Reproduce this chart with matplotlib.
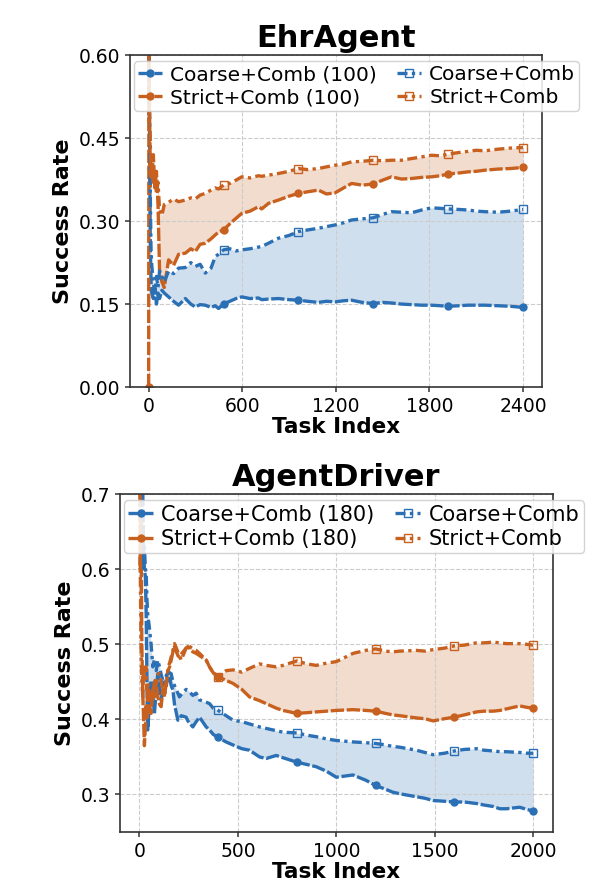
import matplotlib
matplotlib.use("Agg")
import matplotlib.pyplot as plt
from matplotlib.ticker import FormatStrFormatter

# ---- EhrAgent (top) ----
ehr_tasks = [0, 2, 5, 10, 15, 20, 30, 40, 50, 60,
             70, 85, 100, 128, 160, 192, 235, 270, 299, 330,
             363, 400, 427, 448, 480, 520, 560, 597, 650, 704,
             725, 768, 832, 900, 960, 1020, 1088, 1140, 1195, 1250,
             1301, 1370, 1440, 1500, 1557, 1621, 1685, 1750, 1813, 1870,
             1920, 1990, 2048, 2100, 2155, 2240, 2320, 2400]
ehr_coarse_100 = [1.0, 0.67, 0.5, 0.27, 0.19, 0.17, 0.16, 0.18, 0.15, 0.17,
                  0.16, 0.175, 0.17, 0.163, 0.155, 0.148, 0.160, 0.150, 0.145, 0.149,
                  0.148, 0.144, 0.147, 0.142, 0.150, 0.155, 0.160, 0.163, 0.160, 0.161,
                  0.158, 0.159, 0.160, 0.158, 0.157, 0.155, 0.153, 0.155, 0.154, 0.156,
                  0.157, 0.153, 0.151, 0.153, 0.152, 0.150, 0.149, 0.148, 0.148, 0.147,
                  0.146, 0.147, 0.148, 0.148, 0.148, 0.147, 0.146, 0.144]
ehr_coarse = [1.0, 0.67, 0.5, 0.36, 0.25, 0.22, 0.19, 0.17, 0.20, 0.18,
              0.21, 0.20, 0.19, 0.21, 0.205, 0.215, 0.216, 0.225, 0.218, 0.222,
              0.206, 0.215, 0.236, 0.240, 0.248, 0.250, 0.246, 0.248, 0.250, 0.253,
              0.254, 0.260, 0.269, 0.274, 0.281, 0.284, 0.287, 0.290, 0.293, 0.297,
              0.302, 0.304, 0.306, 0.312, 0.317, 0.316, 0.315, 0.320, 0.324, 0.323,
              0.322, 0.321, 0.320, 0.318, 0.317, 0.316, 0.318, 0.321]
ehr_strict_100 = [0.0, 0.67, 0.5, 0.36, 0.40, 0.38, 0.42, 0.36, 0.39, 0.33,
                  0.21, 0.19, 0.18, 0.23, 0.22, 0.24, 0.242, 0.25, 0.245, 0.258,
                  0.26, 0.268, 0.275, 0.280, 0.284, 0.295, 0.305, 0.314, 0.318, 0.326,
                  0.322, 0.332, 0.338, 0.345, 0.350, 0.353, 0.356, 0.349, 0.351, 0.360,
                  0.368, 0.365, 0.367, 0.374, 0.380, 0.376, 0.377, 0.379, 0.380, 0.382,
                  0.385, 0.387, 0.389, 0.390, 0.392, 0.394, 0.395, 0.397]
ehr_strict = [1.0, 0.67, 0.5, 0.45, 0.38, 0.40, 0.37, 0.39, 0.35, 0.37,
              0.32, 0.31, 0.33, 0.334, 0.34, 0.335, 0.338, 0.342, 0.340, 0.347,
              0.350, 0.356, 0.360, 0.358, 0.365, 0.368, 0.374, 0.380, 0.378, 0.382,
              0.381, 0.383, 0.386, 0.390, 0.395, 0.393, 0.395, 0.398, 0.401, 0.403,
              0.407, 0.408, 0.410, 0.409, 0.410, 0.410, 0.413, 0.416, 0.419, 0.418,
              0.421, 0.424, 0.426, 0.428, 0.427, 0.430, 0.432, 0.433]
ehr_marks = [0, 480, 960, 1440, 1920, 2400]

# ---- AgentDriver (bottom) ----
ad_tasks = [0, 4, 8, 12, 17, 21, 25, 30, 34, 38,
            42, 50, 59, 68, 76, 85, 93, 102, 110, 119,
            128, 136, 145, 153, 161, 170, 178, 195, 203, 212,
            237, 246, 271, 288, 305, 339, 356, 375, 400, 440,
            475, 520, 559, 610, 644, 695, 729, 800, 850, 898,
            950, 1000, 1085, 1150, 1200, 1250, 1288, 1322, 1407, 1450,
            1492, 1550, 1600, 1650, 1712, 1750, 1797, 1831, 1864, 1932,
            1970, 2000]
ad_coarse_180 = [1.0, 0.8, 0.78, 0.75, 0.70, 0.62, 0.60, 0.59, 0.54, 0.45,
                 0.386, 0.42, 0.452, 0.43, 0.408, 0.44, 0.461, 0.44, 0.426, 0.44,
                 0.45, 0.447, 0.455, 0.457, 0.445, 0.439, 0.42, 0.399, 0.40, 0.405,
                 0.403, 0.398, 0.39, 0.397, 0.403, 0.39, 0.386, 0.38, 0.376, 0.37,
                 0.366, 0.361, 0.359, 0.35, 0.348, 0.352, 0.349, 0.343, 0.340, 0.337,
                 0.331, 0.323, 0.326, 0.319, 0.312, 0.307, 0.303, 0.301, 0.297, 0.295,
                 0.292, 0.291, 0.290, 0.290, 0.288, 0.286, 0.284, 0.281, 0.281, 0.283,
                 0.280, 0.278]
ad_coarse = [1.0, 0.8, 0.75, 0.70, 0.65, 0.60, 0.63, 0.60, 0.594, 0.56,
             0.54, 0.523, 0.50, 0.47, 0.48, 0.465, 0.479, 0.47, 0.46, 0.452,
             0.455, 0.458, 0.465, 0.462, 0.461, 0.45, 0.445, 0.435, 0.43, 0.433,
             0.44, 0.439, 0.432, 0.435, 0.426, 0.423, 0.421, 0.415, 0.412, 0.405,
             0.399, 0.397, 0.394, 0.39, 0.388, 0.385, 0.383, 0.382, 0.379, 0.377,
             0.374, 0.372, 0.370, 0.369, 0.368, 0.366, 0.364, 0.363, 0.359, 0.356,
             0.353, 0.355, 0.358, 0.360, 0.361, 0.359, 0.358, 0.357, 0.357, 0.356,
             0.355, 0.355]
ad_strict_180 = [1.0, 0.6, 0.67, 0.5, 0.43, 0.40, 0.365, 0.39, 0.42, 0.40,
                 0.443, 0.42, 0.408, 0.44, 0.43, 0.452, 0.43, 0.42, 0.417, 0.44,
                 0.43, 0.452, 0.465, 0.47, 0.479, 0.49, 0.497, 0.485, 0.483, 0.487,
                 0.495, 0.497, 0.49, 0.488, 0.485, 0.479, 0.47, 0.462, 0.457, 0.452,
                 0.448, 0.44, 0.43, 0.425, 0.421, 0.415, 0.412, 0.408, 0.409, 0.410,
                 0.411, 0.412, 0.413, 0.412, 0.411, 0.408, 0.406, 0.405, 0.402, 0.401,
                 0.398, 0.401, 0.403, 0.406, 0.410, 0.411, 0.411, 0.412, 0.414, 0.418,
                 0.416, 0.415]
ad_strict = [1.0, 0.6, 0.5, 0.45, 0.43, 0.47, 0.45, 0.47, 0.47, 0.44,
             0.45, 0.43, 0.44, 0.435, 0.45, 0.455, 0.46, 0.461, 0.45, 0.44,
             0.435, 0.443, 0.47, 0.475, 0.483, 0.492, 0.501, 0.49, 0.485, 0.479,
             0.495, 0.499, 0.494, 0.492, 0.488, 0.479, 0.47, 0.462, 0.457, 0.465,
             0.466, 0.463, 0.468, 0.474, 0.472, 0.470, 0.472, 0.478, 0.474, 0.472,
             0.475, 0.477, 0.488, 0.492, 0.494, 0.491, 0.490, 0.491, 0.492, 0.491,
             0.493, 0.495, 0.498, 0.499, 0.502, 0.502, 0.503, 0.502, 0.501, 0.501,
             0.500, 0.499]
ad_marks = [0, 400, 800, 1200, 1600, 2000]

blue = "#2b70b5"
orange = "#c8611f"
dash_k = (0, (4, 0.8))          # the (100)/(180) runs, nearly solid
dash_dot = (0, (3, 1.3, 1, 1.3))


def draw(ax, tasks, c_k, c, s_k, s, k, marks, title, yticks, yfmt, xticks, ylim, legsize):
    idx = [tasks.index(m) for m in marks]
    ax.fill_between(tasks, c_k, c, color=blue, alpha=0.22, lw=0)
    ax.fill_between(tasks, s_k, s, color=orange, alpha=0.22, lw=0)
    ax.plot(tasks, c_k, ls=dash_k, color=blue, lw=2.4, marker="o", ms=5,
            markevery=idx, label=f"Coarse+Comb ({k})")
    ax.plot(tasks, s_k, ls=dash_k, color=orange, lw=2.4, marker="o", ms=5,
            markevery=idx, label=f"Strict+Comb ({k})")
    ax.plot(tasks, c, ls=dash_dot, color=blue, lw=2.4, marker="s", ms=6, mfc="none",
            markevery=idx, label="Coarse+Comb")
    ax.plot(tasks, s, ls=dash_dot, color=orange, lw=2.4, marker="s", ms=6, mfc="none",
            markevery=idx, label="Strict+Comb")
    ax.set_ylim(*ylim)
    ax.set_yticks(yticks)
    ax.yaxis.set_major_formatter(FormatStrFormatter(yfmt))
    ax.set_xticks(xticks)
    ax.tick_params(labelsize=13.5, color="#333333", width=1.1)
    ax.grid(True, ls="--", color="#cccccc", lw=0.8)
    for sp in ax.spines.values():
        sp.set_color("#333333")
        sp.set_linewidth(1.2)
    ax.set_title(title, fontsize=22, fontweight="bold")
    ax.set_xlabel("Task Index", fontsize=15.5, fontweight="bold", labelpad=1)
    ax.set_ylabel("Success Rate", fontsize=16, fontweight="bold")
    ax.legend(ncol=2, loc="upper left", bbox_to_anchor=(-0.005, 1.0),
              fontsize=legsize, handlelength=1.2, handletextpad=0.4,
              columnspacing=1.0, borderpad=0.2, labelspacing=0.2,
              borderaxespad=0.3, framealpha=0.85)


fig = plt.figure(figsize=(5.96, 8.96), dpi=100)
ax1 = fig.add_axes([0.218, 0.568, 0.691, 0.3705])
ax2 = fig.add_axes([0.201, 0.0714, 0.7265, 0.377])

draw(ax1, ehr_tasks, ehr_coarse_100, ehr_coarse, ehr_strict_100, ehr_strict, 100,
     ehr_marks, "EhrAgent", [0, 0.15, 0.30, 0.45, 0.60], "%.2f",
     [0, 600, 1200, 1800, 2400], (0, 0.6), 14.5)
draw(ax2, ad_tasks, ad_coarse_180, ad_coarse, ad_strict_180, ad_strict, 180,
     ad_marks, "AgentDriver", [0.3, 0.4, 0.5, 0.6, 0.7], "%.1f",
     [0, 500, 1000, 1500, 2000], (0.25, 0.7), 15)

fig.savefig("out.png", dpi=100)
